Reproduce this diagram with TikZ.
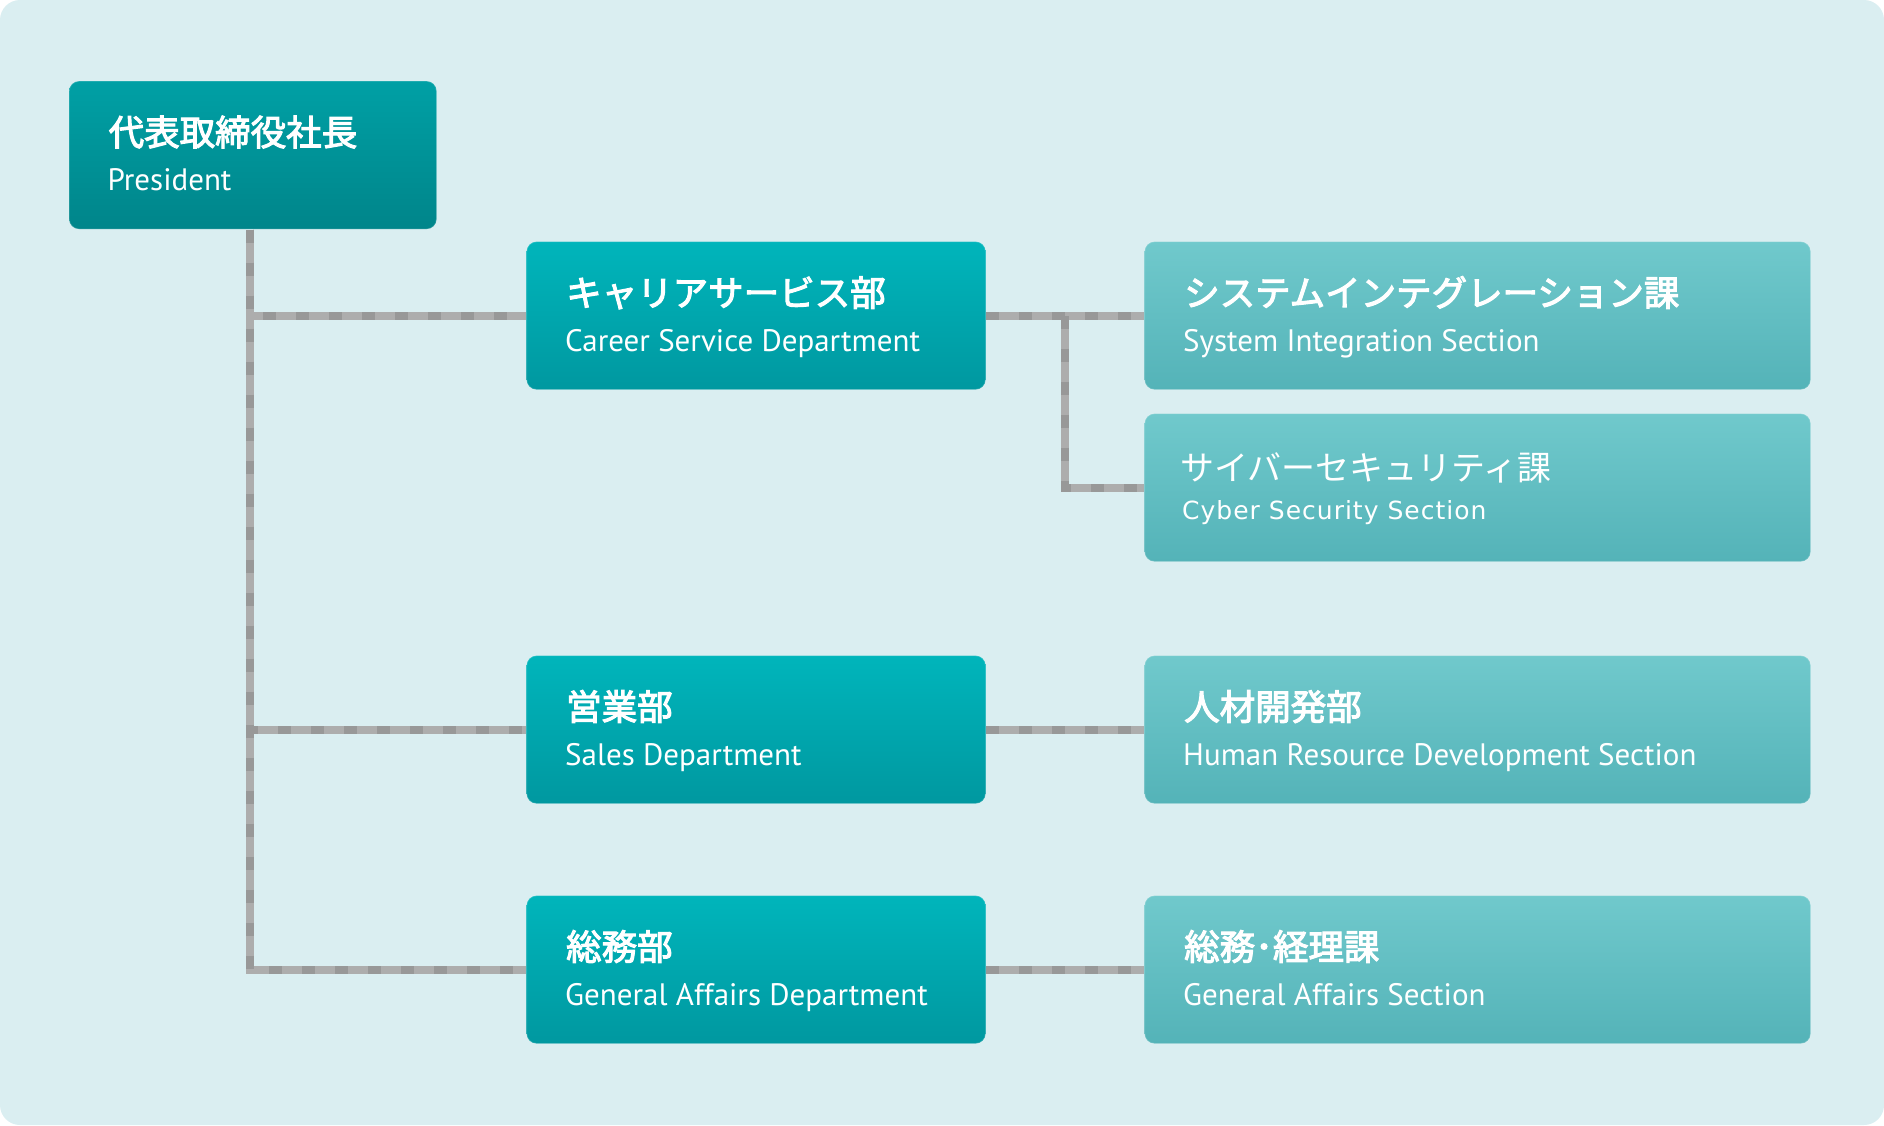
\documentclass[tikz,border=0pt]{standalone}
\usepackage{fontspec}
\usetikzlibrary{calc}
\newfontfamily\jpfont{Noto Sans CJK JP}
\newfontfamily\jpfontm{Noto Sans CJK JP}[FakeBold=3]
\newfontfamily\enfont{PT Sans}
\newfontfamily\enfontalt{DejaVu Sans}[LetterSpace=4]
\definecolor{bg}{HTML}{DAEEF1}
\definecolor{presT}{HTML}{00A0A5}
\definecolor{presB}{HTML}{00858A}
\definecolor{depT}{HTML}{00B5BB}
\definecolor{depB}{HTML}{0098A0}
\definecolor{secT}{HTML}{70C9CC}
\definecolor{secB}{HTML}{54B3B8}
\definecolor{lineA}{HTML}{ADADAD}
\definecolor{lineB}{HTML}{989898}
\tikzset{
  box/.style={rectangle, rounded corners=10pt, anchor=north west, inner sep=0pt,
    minimum height=148pt, draw=white, draw opacity=0.2, line width=1.2pt},
  presbox/.style={box, minimum width=367.5pt, top color=presT, bottom color=presB},
  deptbox/.style={box, minimum width=459pt, top color=depT, bottom color=depB},
  secbox/.style={box, minimum width=666pt, top color=secT, bottom color=secB},
  jp/.style={anchor=base west, inner sep=0pt, text=white,
    font=\jpfontm\fontsize{35.5}{40}\selectfont},
  jpreg/.style={anchor=base west, inner sep=0pt, text=white,
    font=\jpfont\fontsize{34}{40}\selectfont},
  en/.style={anchor=base west, inner sep=0pt, text=white,
    font=\enfont\fontsize{31}{36}\selectfont},
  enalt/.style={anchor=base west, inner sep=0pt, text=white,
    font=\enfontalt\fontsize{25}{30}\selectfont},
  link/.style={line width=8pt, draw=lineA},
  linkdash/.style={line width=8pt, draw=lineB, dash pattern=on 13pt off 20pt},
}
\begin{document}
\begin{tikzpicture}[x=1pt,y=-1pt]
\useasboundingbox (0,0) rectangle (1884,1125);
\fill[white] (0,0) rectangle (1884,1125);
\fill[bg, rounded corners=20pt] (0,0) rectangle (1884,1125);

% boxes
\node[presbox] (pres) at (68.5,80.5) {};
\node[deptbox] (career) at (526,241) {};
\node[deptbox] (sales) at (526,655) {};
\node[deptbox] (gen) at (526,895) {};
\node[secbox] (sys) at (1144,241) {};
\node[secbox] (cyber) at (1144,413) {};
\node[secbox] (hr) at (1144,655) {};
\node[secbox] (gensec) at (1144,895) {};

\coordinate (stem) at ($(pres.south)+(-2.5,0)$);
\coordinate (split) at ($(career.east)!0.5!(sys.west)$);

% connectors
\foreach \s in {link, linkdash}{
  \draw[\s] (stem) |- (gen.west);
  \draw[\s] (stem) |- (sales.west);
  \draw[\s] (stem) |- (career.west);
  \draw[\s] (career.east) -- (sys.west);
  \draw[\s] (split) |- (cyber.west);
  \draw[\s] (sales.east) -- (hr.west);
  \draw[\s] (gen.east) -- (gensec.west);
}

% texts
\node[jp] (pres-jp) at ($(pres.north west)+(40,65)$) {代表取締役社長};
\node[en] (pres-en) at ($(pres.north west)+(39,110)$) {President};

\node[jp] (career-jp) at ($(career.north west)+(40,65)$) {キャリアサービス部};
\node[en] (career-en) at ($(career.north west)+(39,110)$) {Career Service Department};

\node[jp] (sales-jp) at ($(sales.north west)+(40,65)$) {営業部};
\node[en] (sales-en) at ($(sales.north west)+(39,110)$) {Sales Department};

\node[jp] (gen-jp) at ($(gen.north west)+(40,65)$) {総務部};
\node[en] (gen-en) at ($(gen.north west)+(39,110)$) {General Affairs Department};

\node[jp] (sys-jp) at ($(sys.north west)+(40,65)$) {システムインテグレーション課};
\node[en] (sys-en) at ($(sys.north west)+(39,110)$) {System Integration Section};

\node[jpreg] (cyber-jp) at ($(cyber.north west)+(36,67)$) {サイバーセキュリティ課};
\node[enalt] (cyber-en) at ($(cyber.north west)+(38,106)$) {Cyber Security Section};

\node[jp] (hr-jp) at ($(hr.north west)+(40,65)$) {人材開発部};
\node[en] (hr-en) at ($(hr.north west)+(39,110)$) {Human Resource Development Section};

\node[jp] (gensec-jp) at ($(gensec.north west)+(40,65)$) {総務･経理課};
\node[en] (gensec-en) at ($(gensec.north west)+(39,110)$) {General Affairs Section};
\end{tikzpicture}
\end{document}
